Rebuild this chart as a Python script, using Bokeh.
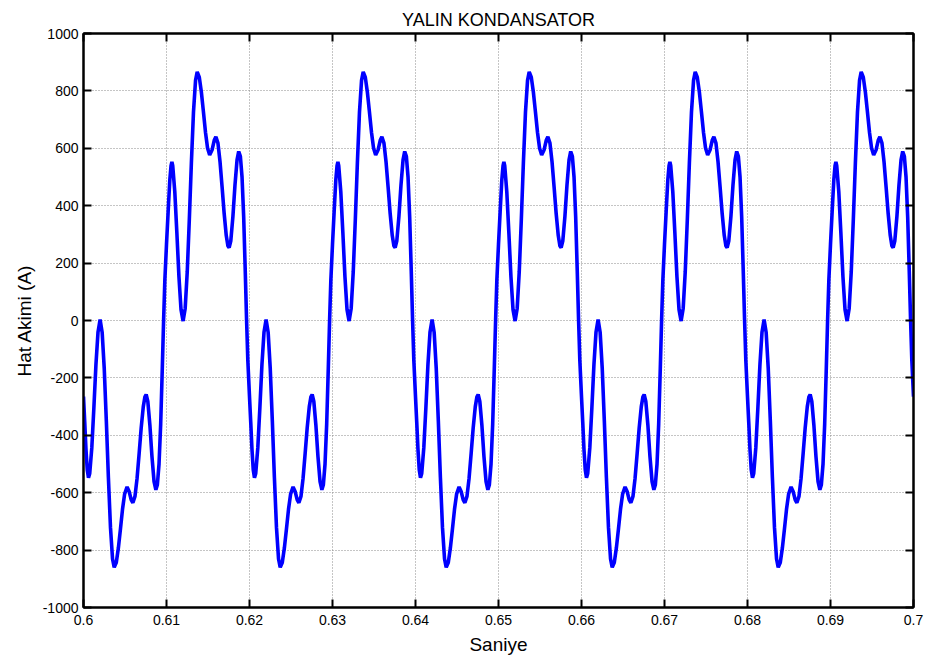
from bokeh.plotting import figure
from bokeh.models import LinearAxis, FixedTicker, ColumnDataSource
from bokeh.embed import file_html
from bokeh.resources import INLINE

# ---- data (one 20 ms cycle, repeated 5 times in the window) ----
title_text = "YALIN KONDANSATOR"
x_label = "Saniye"
y_label = "Hat Akimi (A)"

cycle_phase_ms = [
    0.00, 0.15, 0.30, 0.45, 0.60, 0.75, 1.00, 1.25, 1.50, 1.75,
    2.00, 2.25, 2.50, 2.75, 3.00, 3.25, 3.50, 3.70, 3.95, 4.20,
    4.45, 4.70, 4.95, 5.25, 5.50, 5.75, 5.95, 6.20, 6.45, 6.70,
    6.95, 7.20, 7.40, 7.55, 7.75, 8.00, 8.25, 8.50, 8.72, 8.90,
    9.10, 9.30, 9.50, 9.65, 9.80,
    10.00, 10.20, 10.40, 10.55, 10.65, 10.75, 11.00, 11.25, 11.50, 11.75,
    12.00, 12.25, 12.50, 12.75, 13.00, 13.25, 13.50, 13.70, 13.95, 14.20,
    14.45, 14.70, 14.95, 15.20, 15.50, 15.75, 15.95, 16.20, 16.45, 16.70,
    16.95, 17.20, 17.40, 17.55, 17.75, 18.00, 18.25, 18.50, 18.70, 18.90,
    19.10, 19.30, 19.50, 19.65, 19.80,
]
cycle_current_a = [
    -265, -355, -450, -520, -548, -533, -444, -304, -153, -40,
    3, -42, -168, -349, -547, -721, -831, -860, -843, -793,
    -727, -658, -605, -580, -596, -625, -635, -613, -551, -465,
    -374, -301, -266, -258, -282, -365, -474, -561, -590, -572,
    -500, -360, -160, 0, 140,
    265, 380, 490, 540, 553, 540, 448, 305, 152, 38,
    -2, 42, 170, 352, 551, 726, 837, 866, 848, 796,
    727, 655, 600, 577, 595, 628, 640, 618, 553, 465,
    372, 296, 260, 254, 278, 362, 472, 560, 589, 572,
    500, 360, 160, 0, -140,
]
start_s = 0.6
cycle_s = 0.02
n_cycles = 5

x_ticks = [0.6, 0.61, 0.62, 0.63, 0.64, 0.65, 0.66, 0.67, 0.68, 0.69, 0.7]
x_tick_labels = ["0.6", "0.61", "0.62", "0.63", "0.64", "0.65", "0.66", "0.67", "0.68", "0.69", "0.7"]
y_ticks = [-1000, -800, -600, -400, -200, 0, 200, 400, 600, 800, 1000]
y_tick_labels = ["-1000", "-800", "-600", "-400", "-200", "0", "200", "400", "600", "800", "1000"]

# ---- build the time series from the read cycle ----
t_vals, i_vals = [], []
for k in range(n_cycles):
    for ph, v in zip(cycle_phase_ms, cycle_current_a):
        t_vals.append(start_s + k * cycle_s + ph / 1000.0)
        i_vals.append(v)
t_vals.append(start_s + n_cycles * cycle_s)
i_vals.append(cycle_current_a[0])
src = ColumnDataSource(data=dict(t=t_vals, i=i_vals))

FONT = "Liberation Sans"

p = figure(width=939, height=660, x_range=(0.6, 0.7), y_range=(-1000, 1000),
           output_backend="svg", toolbar_location=None,
           min_border_left=83, min_border_right=26, min_border_top=33, min_border_bottom=53)
p.background_fill_color = "white"
p.border_fill_color = "white"
p.outline_line_color = "black"
p.outline_line_width = 2

p.title.text = title_text
p.title.align = "center"
p.title.text_font = FONT
p.title.text_font_size = "18px"
p.title.text_font_style = "normal"
p.title.text_color = "black"
p.title.standoff = 8

p.line("t", "i", source=src, line_color="#0000FF", line_width=3.6)

xt = FixedTicker(ticks=x_ticks, minor_ticks=[])
yt = FixedTicker(ticks=y_ticks, minor_ticks=[])

main_axes = list(p.xaxis) + list(p.yaxis)
for ax in p.xaxis:
    ax.ticker = xt
    ax.major_label_overrides = {v: s for v, s in zip(x_ticks, x_tick_labels)}
    ax.axis_label = x_label
    ax.major_label_standoff = 7
    ax.axis_label_standoff = 6
for ax in p.yaxis:
    ax.ticker = yt
    ax.major_label_overrides = {v: s for v, s in zip(y_ticks, y_tick_labels)}
    ax.axis_label = y_label
    ax.major_label_standoff = 5
    ax.axis_label_standoff = 5

for ax in main_axes:
    ax.major_label_text_font = FONT
    ax.major_label_text_font_size = "14px"
    ax.major_label_text_color = "black"
    ax.axis_label_text_font = FONT
    ax.axis_label_text_font_style = "normal"
    ax.axis_label_text_color = "black"
    ax.axis_label_text_font_size = "19px"

# box axes on top and right: ticks only, no labels drawn
top_ax = LinearAxis(ticker=xt)
right_ax = LinearAxis(ticker=yt)
for ax in (top_ax, right_ax):
    ax.major_label_text_color = None
    ax.major_label_text_font_size = "1px"
    ax.major_label_standoff = 0
p.add_layout(top_ax, "above")
p.add_layout(right_ax, "right")

for ax in main_axes + [top_ax, right_ax]:
    ax.axis_line_color = "black"
    ax.axis_line_width = 2
    ax.major_tick_line_color = "black"
    ax.major_tick_line_width = 2
    ax.major_tick_in = 8
    ax.major_tick_out = 0
    ax.minor_tick_line_color = None

p.xgrid.ticker = xt
p.ygrid.ticker = yt
for g in (p.xgrid, p.ygrid):
    g.grid_line_color = "#8a8a8a"
    g.grid_line_dash = "1 2"
    g.grid_line_width = 1

open("out.html", "w").write(file_html(p, INLINE))
